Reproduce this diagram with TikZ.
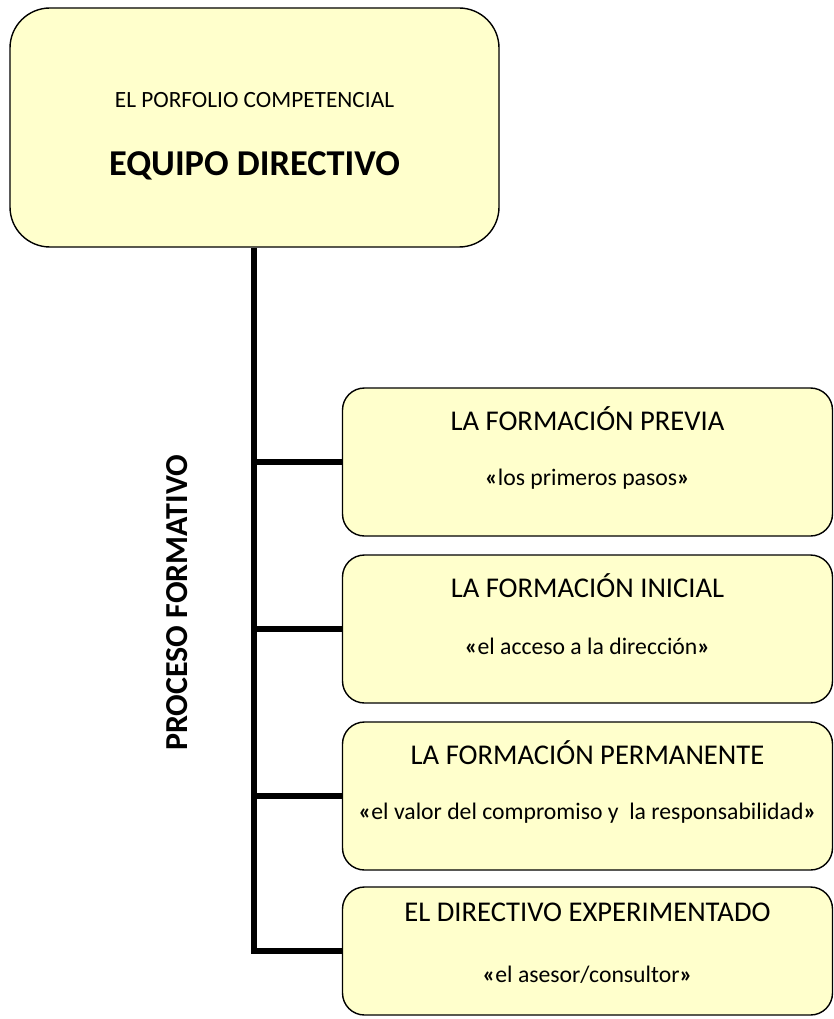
\documentclass[tikz,border=0pt]{standalone}
\usepackage{fontspec}
\setmainfont{Carlito}
\usetikzlibrary{calc}
\definecolor{boxfill}{HTML}{FFFFCC}
\newcommand{\myopenq}{\textbf{«}}
\newcommand{\myclosq}{\textbf{»}}
\begin{document}
\begin{tikzpicture}[x=1pt,y=-1pt,
  box/.style={draw=black,line width=1.4pt,fill=boxfill,rounded corners=22pt,inner sep=0pt},
  topbox/.style={box,rounded corners=40pt},
  conn/.style={line width=5.5pt,black},
  ttl/.style={font=\fontsize{28.6}{32}\selectfont,inner sep=0pt},
  sub/.style={font=\fontsize{23.7}{28}\selectfont,inner sep=0pt}]
\useasboundingbox (0,0) rectangle (834,1019);
\node[topbox,minimum width=489pt,minimum height=239pt] (top) at (254.5,127.5) {};
\node[font=\fontsize{23.3}{28}\selectfont,inner sep=0pt] (tt1) at ([yshift=-93pt]top.north) {EL PORFOLIO COMPETENCIAL};
\node[font=\bfseries\fontsize{36.4}{42}\selectfont,inner sep=0pt] (tt2) at ([yshift=-159pt]top.north) {EQUIPO DIRECTIVO};

\node[box,minimum width=490pt,minimum height=148pt] (b1) at (587.5,462) {};
\node[box,minimum width=490pt,minimum height=148pt] (b2) at (587.5,629) {};
\node[box,minimum width=490pt,minimum height=148pt] (b3) at (587.5,796) {};
\node[box,minimum width=490pt,minimum height=128pt] (b4) at (587.5,951) {};

\node[ttl] (t1) at ([yshift=-31pt]b1.north) {LA FORMACIÓN PREVIA};
\node[sub] (s1) at ([yshift=-92pt]b1.north) {\myopenq los primeros pasos\myclosq};
\node[ttl] (t2) at ([yshift=-31pt]b2.north) {LA FORMACIÓN INICIAL};
\node[sub] (s2) at ([yshift=-92pt]b2.north) {\myopenq el acceso a la dirección\myclosq};
\node[ttl] (t3) at ([yshift=-31pt]b3.north) {LA FORMACIÓN PERMANENTE};
\node[sub] (s3) at ([yshift=-92pt]b3.north) {\myopenq el valor del compromiso y\ \ la responsabilidad\myclosq};
\node[ttl] (t4) at ([yshift=-26pt]b4.north) {EL DIRECTIVO EXPERIMENTADO};
\node[sub] (s4) at ([yshift=-88pt]b4.north) {\myopenq el asesor/consultor\myclosq};

\node[rotate=90,font=\bfseries\fontsize{32}{38}\selectfont,inner sep=0pt] (lbl) at (177,603) {PROCESO FORMATIVO};

\draw[conn] ([xshift=-0.5pt]top.south) -- ([xshift=-0.5pt]top.south |- b4.west) -- (b4.west);
\draw[conn] ([xshift=-0.5pt]top.south |- b1.west) -- (b1.west);
\draw[conn] ([xshift=-0.5pt]top.south |- b2.west) -- (b2.west);
\draw[conn] ([xshift=-0.5pt]top.south |- b3.west) -- (b3.west);
\end{tikzpicture}
\end{document}
